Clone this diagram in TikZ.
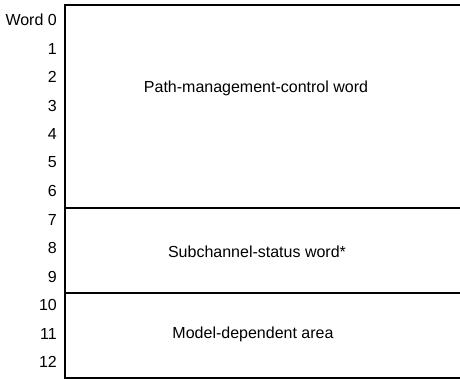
\documentclass[tikz,border=0pt]{standalone}
\usepackage{fontspec}
\setmainfont{Liberation Sans}
\usetikzlibrary{positioning}

\begin{document}
\begin{tikzpicture}[x=1pt, y=-1pt,
    wordnum/.style={anchor=east, inner sep=0pt, font=\fontsize{16}{18}\selectfont},
    area/.style={inner sep=0pt, font=\fontsize{16}{18}\selectfont},
    frame/.style={line width=2pt}]
    \useasboundingbox (0,0) rectangle (460,379);

    % Define corners of the block
    \coordinate (topleft) at (65,5);
    \coordinate (topright) at (460,5);
    \coordinate (botleft) at (65,378);
    \coordinate (botright) at (460,378);
    \coordinate (div1left) at (65,208);
    \coordinate (div1right) at (460,208);
    \coordinate (div2left) at (65,293);
    \coordinate (div2right) at (460,293);

    % Define word numbers
    \node (w0) [wordnum] at (57,20) {Word 0};
    \node (w1) [wordnum] at (57,48.5) {1};
    \node (w2) [wordnum] at (57,77) {2};
    \node (w3) [wordnum] at (57,105.5) {3};
    \node (w4) [wordnum] at (57,134) {4};
    \node (w5) [wordnum] at (57,162.5) {5};
    \node (w6) [wordnum] at (57,191) {6};
    \node (w7) [wordnum] at (57,219.5) {7};
    \node (w8) [wordnum] at (57,248) {8};
    \node (w9) [wordnum] at (57,276.5) {9};
    \node (w10) [wordnum] at (57,305) {10};
    \node (w11) [wordnum] at (57,333.5) {11};
    \node (w12) [wordnum] at (57,362) {12};

    % Define areas
    \node (pmcw) [area] at (256,88) {Path-management-control word};
    \node (scsw) [area] at (257,252) {Subchannel-status word*};
    \node (model) [area] at (253,334) {Model-dependent area};

    % Draw the block
    \draw[frame] (topright) -- (topleft) -- (botleft) -- (botright);
    \draw[frame] (div1left) -- (div1right);
    \draw[frame] (div2left) -- (div2right);
\end{tikzpicture}
\end{document}
